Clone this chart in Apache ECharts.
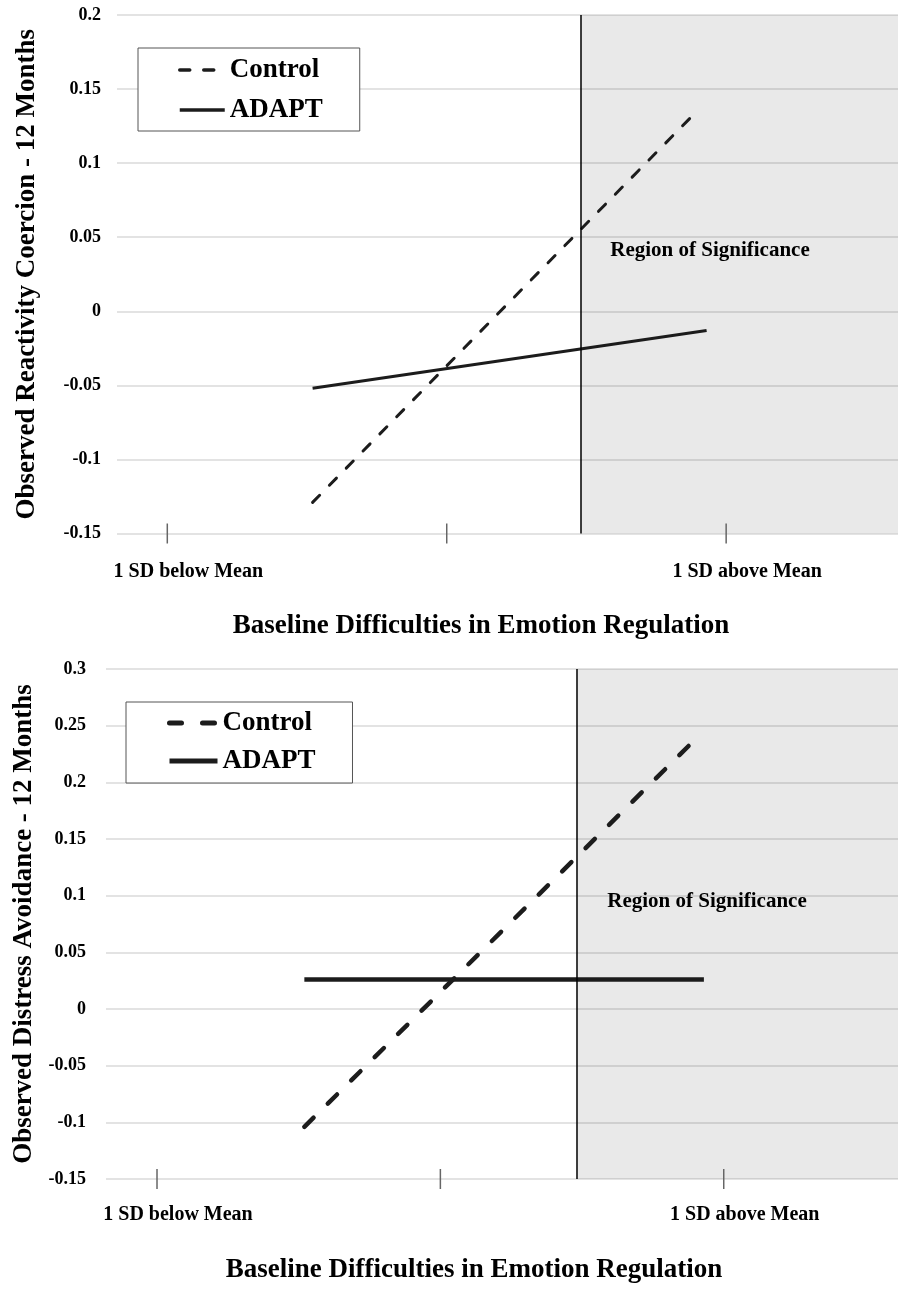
<!DOCTYPE html>
<html>
<head>
<meta charset="utf-8">
<title>Emotion regulation moderation plots</title>
<script src="https://cdn.jsdelivr.net/npm/echarts@6/dist/echarts.min.js"></script>
<style>
  html, body { margin: 0; padding: 0; background: #fff; }
  #chart { width: 899px; height: 1289px; }
</style>
</head>
<body>
<div id="chart"></div>
<script>
// x is in SD units of baseline difficulties (-1 = 1 SD below, 0 = mean, 1 = 1 SD above)
var tickValues = [-1, 0, 1];
var tickLabels = ["1 SD below Mean", "", "1 SD above Mean"];
var regionStart = 0.48; // where the region of significance begins

// top panel - Observed Reactivity Coercion
var coercionControlX = [-0.48, 0.9];
var coercionControlY = [-0.129, 0.136];
var coercionAdaptX = [-0.48, 0.93];
var coercionAdaptY = [-0.052, -0.013];

// bottom panel - Observed Distress Avoidance
var avoidControlX = [-0.48, 0.92];
var avoidControlY = [-0.104, 0.243];
var avoidAdaptX = [-0.48, 0.93];
var avoidAdaptY = [0.026, 0.026];

var FONT = '"Liberation Serif", "Times New Roman", serif';
var INK = "#1c1c1c";
var X_MIN = -1.18, X_MAX = 1.615;

function pairs(xs, ys) {
  return xs.map(function (x, i) { return [x, ys[i]]; });
}

function xAxisFor(idx) {
  return {
    type: "value", gridIndex: idx, min: X_MIN, max: X_MAX,
    axisLine: { show: false }, axisTick: { show: false },
    axisLabel: { show: false }, splitLine: { show: false }
  };
}

function yAxisFor(idx, max, name, margin, gap) {
  return {
    type: "value", gridIndex: idx, min: -0.15, max: max, interval: 0.05,
    axisLine: { show: false }, axisTick: { show: false },
    splitLine: { lineStyle: { color: "#e3e3e3", width: 2 } },
    axisLabel: { color: "#000", fontFamily: FONT, fontWeight: "bold", fontSize: 18, margin: margin },
    name: name, nameLocation: "middle", nameGap: gap,
    nameTextStyle: { color: "#000", fontFamily: FONT, fontWeight: "bold", fontSize: 27 }
  };
}

// shaded region + vertical boundary line
function regionSeries(idx) {
  return {
    name: "region", type: "line", xAxisIndex: idx, yAxisIndex: idx,
    data: [], silent: true, z: 1,
    markArea: {
      silent: true,
      itemStyle: { color: "rgba(0,0,0,0.085)" },
      data: [[{ xAxis: regionStart }, { xAxis: X_MAX }]]
    },
    markLine: {
      silent: true, symbol: "none",
      label: { show: false },
      lineStyle: { color: "#000", width: 1.5, type: "solid" },
      data: [{ xAxis: regionStart }]
    }
  };
}

function tickSeries(idx, dist) {
  return {
    name: "ticks", type: "scatter", xAxisIndex: idx, yAxisIndex: idx,
    data: tickValues.map(function (v) { return [v, -0.15]; }),
    symbol: "rect", symbolSize: [1.5, 20], clip: false, silent: true, z: 4,
    itemStyle: { color: "#666", opacity: 1 },
    label: {
      show: true, position: "bottom", distance: dist, offset: [21, 0],
      formatter: function (p) { return tickLabels[p.dataIndex]; },
      color: "#000", fontFamily: FONT, fontWeight: "bold", fontSize: 20
    }
  };
}

function lineSeries(name, idx, xs, ys, width, dash) {
  return {
    name: name, type: "line", xAxisIndex: idx, yAxisIndex: idx, z: 3,
    data: pairs(xs, ys), symbol: "none", color: INK,
    itemStyle: { color: INK },
    lineStyle: dash
      ? { color: INK, width: width, type: dash, cap: "round" }
      : { color: INK, width: width }
  };
}

var legendText = { color: "#000", fontFamily: FONT, fontWeight: "bold", fontSize: 27, lineHeight: 30 };

var option = {
  backgroundColor: "#fff",
  animation: false,
  grid: [
    { left: 117, right: 1, top: 15, height: 518.5 },
    { left: 106, right: 1, top: 669, height: 510 }
  ],
  xAxis: [xAxisFor(0), xAxisFor(1)],
  yAxis: [
    yAxisFor(0, 0.2, "Observed Reactivity Coercion - 12 Months", 16, 76),
    yAxisFor(1, 0.3, "Observed Distress Avoidance - 12 Months", 20, 68)
  ],
  title: [
    {
      text: "Baseline Difficulties in Emotion Regulation", left: 476, top: 608, textAlign: "center",
      textStyle: { color: "#000", fontFamily: FONT, fontWeight: "bold", fontSize: 27 }
    },
    {
      text: "Baseline Difficulties in Emotion Regulation", left: 469, top: 1252, textAlign: "center",
      textStyle: { color: "#000", fontFamily: FONT, fontWeight: "bold", fontSize: 27 }
    }
  ],
  legend: [
    {
      orient: "vertical", left: 138, top: 48, padding: [7, 37, 6, 40],
      itemWidth: 45, itemHeight: 14, itemGap: 10, selectedMode: false,
      borderColor: "#555", borderWidth: 1, backgroundColor: "#fff",
      textStyle: legendText,
      itemStyle: { opacity: 0 },
      lineStyle: { width: 3.5, color: INK },
      data: ["Control", "ADAPT"]
    },
    {
      orient: "vertical", left: 126, top: 702, padding: [6, 37, 7, 41],
      itemWidth: 48, itemHeight: 14, itemGap: 8, selectedMode: false,
      borderColor: "#555", borderWidth: 1, backgroundColor: "#fff",
      textStyle: legendText,
      itemStyle: { opacity: 0 },
      lineStyle: { width: 5, color: INK },
      data: [
        { name: "Control", lineStyle: { type: [12, 21], width: 5 } },
        { name: "ADAPT", lineStyle: { width: 5 } }
      ]
    }
  ],
  graphic: [
    {
      type: "text", x: 710, y: 251, z: 100,
      style: { text: "Region of Significance", fill: "#000", font: "bold 21px " + FONT, align: "center", verticalAlign: "middle" }
    },
    {
      type: "text", x: 707, y: 902, z: 100,
      style: { text: "Region of Significance", fill: "#000", font: "bold 21px " + FONT, align: "center", verticalAlign: "middle" }
    }
  ],
  series: [
    regionSeries(0),
    regionSeries(1),
    lineSeries("Control", 0, coercionControlX, coercionControlY, 3, [10, 14]),
    lineSeries("ADAPT", 0, coercionAdaptX, coercionAdaptY, 3),
    lineSeries("Control", 1, avoidControlX, avoidControlY, 4.5, [13, 20]),
    lineSeries("ADAPT", 1, avoidAdaptX, avoidAdaptY, 4.5),
    tickSeries(0, 18),
    tickSeries(1, 16)
  ]
};

var chart = echarts.init(document.getElementById("chart"));
chart.setOption(option);
</script>
</body>
</html>
